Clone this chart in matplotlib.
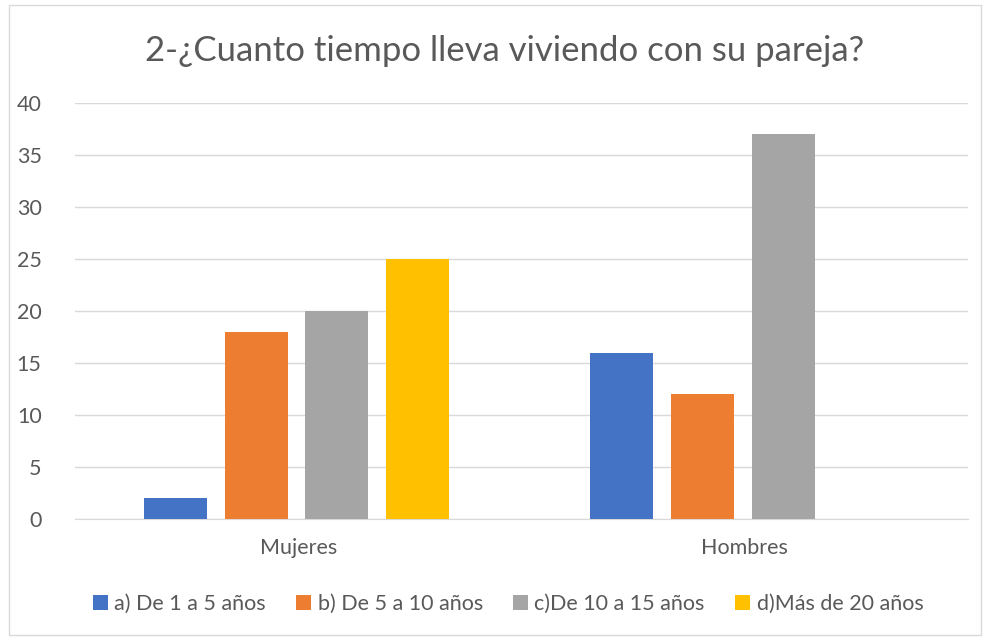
import matplotlib
matplotlib.use("Agg")
import matplotlib.pyplot as plt
import numpy as np
from matplotlib.patches import Rectangle

categories = ["Mujeres", "Hombres"]
series_names = ["a) De 1 a 5 años", "b) De 5 a 10 años", "c)De 10 a 15 años", "d)Más de 20 años"]
values_a = [2, 16]
values_b = [18, 12]
values_c = [20, 37]
values_d = [25, 0]
colors = ["#4472C4", "#ED7D31", "#A5A5A5", "#FFC000"]
title = "2-¿Cuanto tiempo lleva viviendo con su pareja?"

plt.rcParams['font.family'] = ['Lato', 'DejaVu Sans']

fig = plt.figure(figsize=(9.88, 6.39), dpi=100)
fig.patches.append(Rectangle((9/988, 4/639), 972/988, 630/639, transform=fig.transFigure,
                             fill=False, edgecolor="#D9D9D9", linewidth=1.0))
ax = fig.add_axes([75/988, 1-519/639, 893/988, 416/639])

x = np.arange(len(categories))
width = 0.141
step = 0.181
series = [values_a, values_b, values_c, values_d]
for i, (vals, name, c) in enumerate(zip(series, series_names, colors)):
    ax.bar(x + (i - 1.5) * step - 0.004, vals, width, color=c, label=name, zorder=3)

ax.set_xlim(-0.5, 1.5)
ax.set_ylim(0, 40)
ax.set_yticks(range(0, 41, 5))
ax.set_xticks(x)
ax.set_xticklabels(categories)
ax.grid(axis='y', color="#D9D9D9", linewidth=1.0, zorder=0)
for s in ["top", "right", "left"]:
    ax.spines[s].set_visible(False)
ax.spines["bottom"].set_color("#D9D9D9")
ax.tick_params(axis='both', length=0, labelsize=15.5, colors="#595959")
ax.tick_params(axis='y', pad=24)
ax.tick_params(axis='x', pad=14)

fig.text(505/988, 1-51/639, title, ha='center', va='center', fontsize=25, color="#595959")

handles, labels = ax.get_legend_handles_labels()
fig.legend(handles, labels, loc='center', bbox_to_anchor=(508/988, 1-604/639), ncol=4,
           frameon=False, fontsize=15.5, labelcolor="#595959", handlelength=0.7, handleheight=0.7,
           handletextpad=0.3, columnspacing=1.4)

fig.savefig("out.png", dpi=100)
